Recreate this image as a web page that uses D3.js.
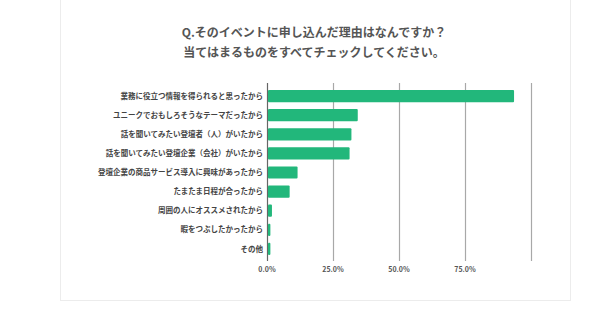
<!DOCTYPE html>
<html>
<head>
<meta charset="utf-8">
<script src="https://cdn.jsdelivr.net/npm/d3@7"></script>
<style>
  body { margin: 0; background: #fff; }
  svg { display: block; font-family: "Noto Sans CJK JP", "Noto Sans", sans-serif; }
</style>
</head>
<body>
<div id="chart"></div>
<script>
const titleLines = [
    "Q.そのイベントに申し込んだ理由はなんですか？",
    "当てはまるものをすべてチェックしてください。"
];

const categories = [
    "業務に役立つ情報を得られると思ったから",
    "ユニークでおもしろそうなテーマだったから",
    "話を聞いてみたい登壇者（人）がいたから",
    "話を聞いてみたい登壇企業（会社）がいたから",
    "登壇企業の商品サービス導入に興味があったから",
    "たまたま日程が合ったから",
    "周囲の人にオススメされたから",
    "暇をつぶしたかったから",
    "その他"
];

const values = [93.2, 34.0, 31.6, 30.9, 11.2, 8.2, 1.5, 0.9, 0.9];

const tickValues = [0, 25, 50, 75, 100];
const tickLabels = ["0.0%", "25.0%", "50.0%", "75.0%", ""];

const width = 600, height = 313;

const svg = d3.select("#chart").append("svg")
    .attr("width", width)
    .attr("height", height);

// card
svg.append("rect")
    .attr("x", 60.5)
    .attr("y", -10)
    .attr("width", 510)
    .attr("height", 310.5)
    .attr("fill", "#fff")
    .attr("stroke", "#ececec");

svg.selectAll(".title")
    .data(titleLines)
    .enter()
    .append("text")
    .attr("class", "title")
    .attr("x", 314)
    .attr("y", (d, i) => 37 + i * 20)
    .attr("text-anchor", "middle")
    .attr("font-size", 12)
    .attr("font-weight", "bold")
    .attr("fill", "#555")
    .text(d => d);

const x = d3.scaleLinear().domain([0, 100]).range([267, 531]);
const y = d3.scaleBand().domain(categories).range([86.5, 258.5]).paddingInner(0.36).paddingOuter(0.18);

// gridlines
svg.selectAll(".grid")
    .data(tickValues)
    .enter()
    .append("line")
    .attr("class", "grid")
    .attr("x1", d => Math.round(x(d)) + 0.5)
    .attr("x2", d => Math.round(x(d)) + 0.5)
    .attr("y1", 83)
    .attr("y2", 261)
    .attr("stroke", (d, i) => i === 0 ? "#666" : "#a8a8a8")
    .attr("stroke-width", 1.2);

svg.selectAll(".bar")
    .data(values)
    .enter()
    .append("rect")
    .attr("class", "bar")
    .attr("x", x(0) + 1)
    .attr("y", (d, i) => y(categories[i]))
    .attr("width", d => Math.max(1.5, x(d) - x(0)))
    .attr("height", y.bandwidth())
    .attr("rx", 1)
    .attr("fill", "#22b77b");

svg.selectAll(".label")
    .data(categories)
    .enter()
    .append("text")
    .attr("class", "label")
    .attr("x", 263)
    .attr("y", d => y(d) + y.bandwidth() / 2)
    .attr("dy", "0.35em")
    .attr("text-anchor", "end")
    .attr("font-size", 7.5)
    .attr("font-weight", "bold")
    .attr("fill", "#444")
    .text(d => d);

svg.selectAll(".tick-label")
    .data(tickValues)
    .enter()
    .append("text")
    .attr("class", "tick-label")
    .attr("x", d => x(d))
    .attr("y", 272)
    .attr("text-anchor", "middle")
    .attr("font-size", 7)
    .attr("font-weight", "bold")
    .attr("fill", "#555")
    .text((d, i) => tickLabels[i]);
</script>
</body>
</html>
